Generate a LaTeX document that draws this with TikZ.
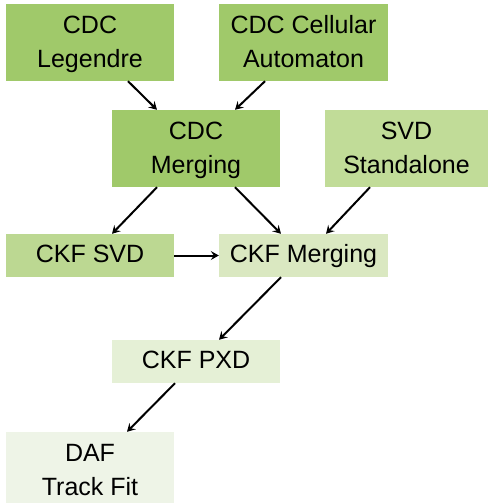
\documentclass[tikz,border=0pt]{standalone}
\usepackage{fontspec}
\setmainfont{Liberation Sans}
\usetikzlibrary{arrows.meta}
\definecolor{cA}{HTML}{A0C96A}
\definecolor{cB}{HTML}{C1DC98}
\definecolor{cC}{HTML}{BCD892}
\definecolor{cD}{HTML}{DAE8C1}
\definecolor{cE}{HTML}{E5F0D6}
\definecolor{cF}{HTML}{EEF4E7}
\newcommand\topstr{\rule{0pt}{24pt}}
\newcommand\botstr{\rule[-9pt]{0pt}{9pt}}
\tikzset{
  box/.style={rectangle, inner sep=0pt, align=center, minimum width=168pt,
    font=\fontsize{25}{34}\selectfont},
  tall/.style={box, minimum height=77pt},
  short/.style={box, minimum height=43pt, text height=20pt, text depth=7pt},
  conn/.style={-{Stealth[length=8pt,width=9pt,inset=3pt]}, line width=2pt, black}
}
\begin{document}
\begin{tikzpicture}[x=1pt,y=-1pt]
\useasboundingbox (0,0) rectangle (488,503);
\node[tall, fill=cA] (leg) at (90,42.5) {\topstr CDC\\Legendre\botstr};
\node[tall, fill=cA, minimum width=169pt] (cell) at (303.5,42.5) {\topstr CDC Cellular\\Automaton\botstr};
\node[tall, fill=cA] (cdcm) at (196,148.5) {\topstr CDC\\Merging\botstr};
\node[tall, fill=cB, minimum width=163pt] (svds) at (406.5,148.5) {\topstr SVD\\Standalone\botstr};
\node[short, fill=cC] (ckfsvd) at (90,255.5) {CKF SVD};
\node[short, fill=cD, minimum width=169pt] (ckfm) at (303.5,255.5) {CKF Merging};
\node[short, fill=cE] (pxd) at (196,361.5) {CKF PXD};
\node[tall, fill=cF] (daf) at (90,470.5) {\topstr DAF\\Track Fit\botstr};
\draw[conn] ([xshift=38pt]leg.south) -- ([xshift=-39pt]cdcm.north);
\draw[conn] ([xshift=-38.5pt]cell.south) -- ([xshift=39pt]cdcm.north);
\draw[conn] ([xshift=-39pt]cdcm.south) -- ([xshift=22pt]ckfsvd.north);
\draw[conn] ([xshift=39pt]cdcm.south) -- ([xshift=-22.5pt]ckfm.north);
\draw[conn] ([xshift=-36.5pt]svds.south) -- ([xshift=22.5pt]ckfm.north);
\draw[conn] (ckfsvd.east) -- (ckfm.west);
\draw[conn] ([xshift=-22.5pt]ckfm.south) -- ([xshift=23pt]pxd.north);
\draw[conn] ([xshift=-21pt]pxd.south) -- ([xshift=37pt]daf.north);
\end{tikzpicture}
\end{document}
